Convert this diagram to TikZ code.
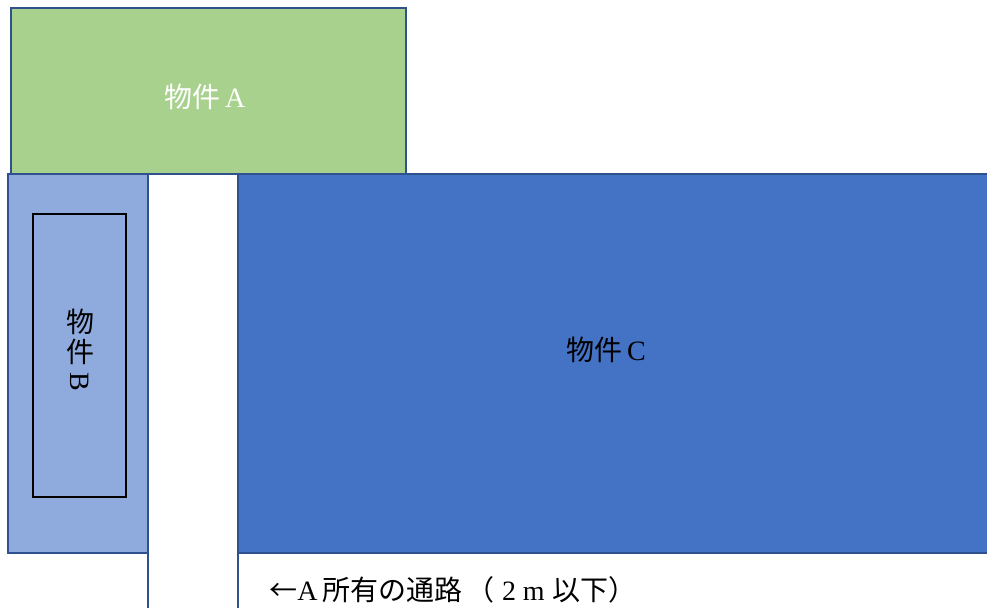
\documentclass[tikz,border=0pt]{standalone}
\usepackage{fontspec}
\setmainfont{Liberation Serif}
\newfontfamily\jp{Noto Sans CJK JP}
\definecolor{greenfill}{HTML}{A9D18E}
\definecolor{lightblue}{HTML}{8FAADC}
\definecolor{darkblue}{HTML}{4472C4}
\definecolor{edgeblue}{HTML}{2F528F}
\tikzset{
  lot/.style={draw=edgeblue, line width=1.9pt},
  lbl/.style={font=\fontsize{21}{25}\selectfont, inner sep=0pt},
}
\begin{document}
\begin{tikzpicture}[x=0.75pt,y=-0.75pt]
\useasboundingbox (0,0) rectangle (987,607);
% lot A
\draw[lot, fill=greenfill] (11,8) rectangle (406,174);
% lot B
\draw[lot, fill=lightblue] (8,174) rectangle (148,553);
\draw[black, line width=0.9pt] (33,214) rectangle (126,497);
% lot C
\draw[lot, fill=darkblue] (238,174) rectangle (995,553);
% path edges
\draw[lot] (148,174) -- (148,610);
\draw[lot] (238,174) -- (238,610);
% labels
\node[lbl, text=white] (A) at (205,97) {{\jp 物件}\,A};
\node[lbl] (B1) at (80,322) {\jp 物};
\node[lbl] (B2) at (80,352) {\jp 件};
\node[lbl, rotate=-90] (B3) at (80,382) {B};
\node[lbl] (C) at (606,350) {{\jp 物件}\,C};
\node[lbl, anchor=west] (P) at (269,590) {{\jp ←}A\,{\jp 所有の通路}\hspace{3pt}{\jp （}\hspace{6pt}2\hspace{5pt}m\hspace{6pt}{\jp 以下）}};
\end{tikzpicture}
\end{document}
